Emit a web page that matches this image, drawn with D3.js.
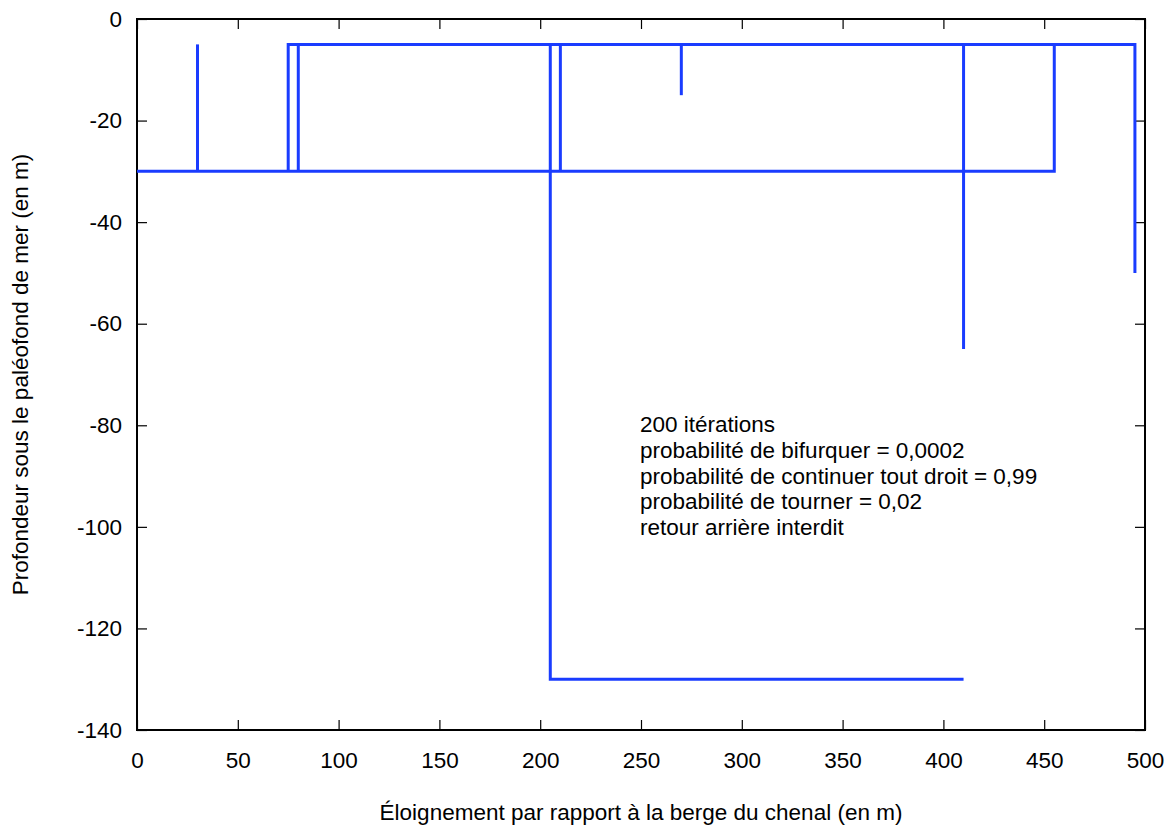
<!DOCTYPE html>
<html>
<head>
<meta charset="utf-8">
<script src="https://cdn.jsdelivr.net/npm/d3@7"></script>
<style>
  body { margin: 0; background: #fff; }
  text { font-family: 'Liberation Sans', Arial, sans-serif; fill: #000; }
</style>
</head>
<body>
<svg width="1173" height="832"></svg>
<script>
// branches of the walk, each a list of [distance (m), depth (m)] vertices
const branchA = [[0, -30], [455, -30], [455, -5]];
const branchB = [[30, -30], [30, -5]];
const branchC = [[75, -30], [75, -5], [495, -5], [495, -50]];
const branchD = [[80, -5], [80, -30]];
const branchE = [[205, -5], [205, -130], [410, -130]];
const branchF = [[210, -5], [210, -30]];
const branchG = [[270, -5], [270, -15]];
const branchH = [[410, -5], [410, -65]];
const branches = [branchA, branchB, branchC, branchD, branchE, branchF, branchG, branchH];

const xTicks = [0, 50, 100, 150, 200, 250, 300, 350, 400, 450, 500];
const yTicks = [0, -20, -40, -60, -80, -100, -120, -140];

const notes = [
  '200 itérations',
  'probabilité de bifurquer = 0,0002',
  'probabilité de continuer tout droit = 0,99',
  'probabilité de tourner = 0,02',
  'retour arrière interdit'
];

const svg = d3.select('svg');
const MARGIN = { TOP: 19, RIGHT: 28, BOTTOM: 102, LEFT: 137 };
const WIDTH = +svg.attr('width') - MARGIN.LEFT - MARGIN.RIGHT;
const HEIGHT = +svg.attr('height') - MARGIN.TOP - MARGIN.BOTTOM;
const FONT = '22.5px';

const g = svg
  .append('g')
  .attr('transform', `translate(${MARGIN.LEFT}, ${MARGIN.TOP})`);

const x = d3.scaleLinear().domain([0, 500]).range([0, WIDTH]);
const y = d3.scaleLinear().domain([-140, 0]).range([HEIGHT, 0]);

const TICK = 10;
const plain = d => String(d); // hyphen minus like the original

// axes, ticks pointing inward, mirrored on top and right
function styleAxis(sel) {
  sel.select('.domain').remove();
  sel.selectAll('line').attr('stroke', '#000').attr('stroke-width', 1.2);
  sel.selectAll('text').style('font-size', FONT);
}

g.append('g')
  .attr('transform', `translate(0, ${HEIGHT})`)
  .call(d3.axisBottom(x).tickValues(xTicks).tickSizeInner(-TICK).tickSizeOuter(0).tickPadding(22).tickFormat(plain))
  .call(styleAxis);

g.append('g')
  .call(d3.axisTop(x).tickValues(xTicks).tickSizeInner(-TICK).tickSizeOuter(0).tickFormat(''))
  .call(styleAxis);

g.append('g')
  .call(d3.axisLeft(y).tickValues(yTicks).tickSizeInner(-TICK).tickSizeOuter(0).tickPadding(15).tickFormat(plain))
  .call(styleAxis);

g.append('g')
  .attr('transform', `translate(${WIDTH}, 0)`)
  .call(d3.axisRight(y).tickValues(yTicks).tickSizeInner(-TICK).tickSizeOuter(0).tickFormat(''))
  .call(styleAxis);

// frame
g.append('rect')
  .attr('width', WIDTH)
  .attr('height', HEIGHT)
  .attr('fill', 'none')
  .attr('stroke', '#000')
  .attr('stroke-width', 2);

// walk
const line = d3.line()
  .x(d => x(d[0]))
  .y(d => y(d[1]));

g.selectAll('.branch')
  .data(branches)
  .enter()
  .append('path')
  .attr('class', 'branch')
  .attr('d', line)
  .attr('fill', 'none')
  .attr('stroke', '#1a3cff')
  .attr('stroke-width', 3)
  .attr('stroke-linejoin', 'miter');

// annotation
g.append('text')
  .attr('x', 503)
  .attr('y', 413)
  .style('font-size', FONT)
  .selectAll('tspan')
  .data(notes)
  .enter()
  .append('tspan')
  .attr('x', 503)
  .attr('dy', (d, i) => (i === 0 ? 0 : 25.8))
  .text(d => d);

// axis titles
svg.append('text')
  .attr('x', MARGIN.LEFT + WIDTH / 2)
  .attr('y', 820)
  .attr('text-anchor', 'middle')
  .style('font-size', FONT)
  .text('Éloignement par rapport à la berge du chenal (en m)');

svg.append('text')
  .attr('transform', `translate(28, ${MARGIN.TOP + HEIGHT / 2}) rotate(-90)`)
  .attr('text-anchor', 'middle')
  .style('font-size', FONT)
  .text('Profondeur sous le paléofond de mer (en m)');
</script>
</body>
</html>
